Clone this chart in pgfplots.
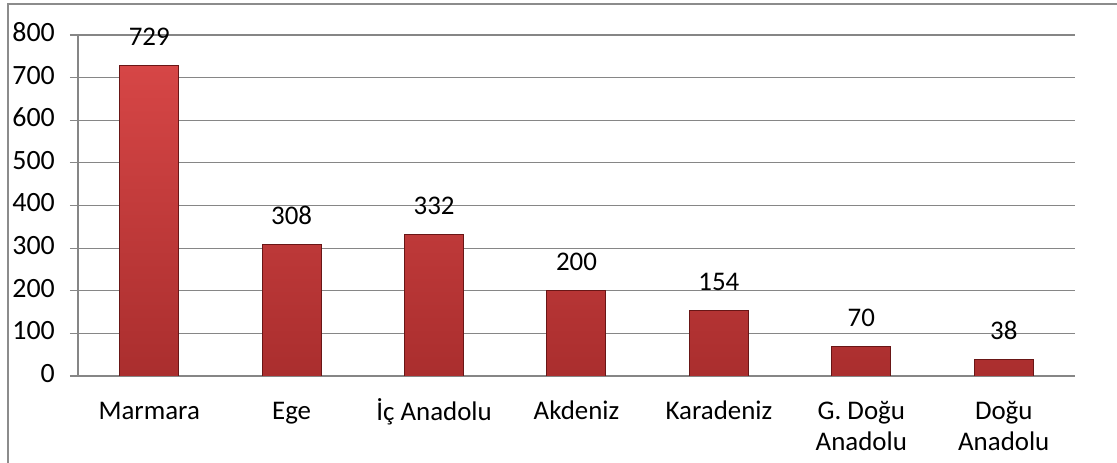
\documentclass[border=0pt]{standalone}
\usepackage{fontspec}
\setmainfont{Carlito}
\usepackage{pgfplots}
\pgfplotsset{compat=1.18}

\definecolor{gridgray}{RGB}{134,134,134}
\definecolor{framegray}{RGB}{140,140,140}
\definecolor{bartop}{RGB}{214,70,70}
\definecolor{barbot}{RGB}{170,46,46}
\definecolor{baredge}{RGB}{105,22,22}

\begin{document}
\fontsize{27}{31}\selectfont
\begin{tikzpicture}
\useasboundingbox (0,0) rectangle (1117bp,463bp);
\draw[framegray, line width=1.5bp] (8bp,0) -- (8bp,459bp) -- (1117bp,459bp);
\begin{axis}[
    at={(78bp,87bp)}, anchor=south west,
    scale only axis,
    width=997bp, height=341bp,
    ymin=0, ymax=800,
    xmin=-0.5, xmax=6.5,
    ytick={0,100,...,800},
    yticklabels={0,100,200,300,400,500,600,700,800},
    xtick={0,...,6},
    xticklabels={Marmara,Ege,İç Anadolu,Akdeniz,Karadeniz,G. Doğu\\Anadolu,Doğu\\Anadolu},
    typeset ticklabels with strut,
    minor xtick={-0.5,0.5,...,6.5},
    axis lines=left,
    axis line style={-, gridgray, line width=1.2bp},
    ymajorgrids,
    grid style={gridgray, line width=1.2bp},
    tick align=outside,
    major tick length=8bp,
    minor tick length=8bp,
    xtick style={draw=none},
    minor tick style={gridgray, line width=1.2bp},
    ytick style={gridgray, line width=1.2bp},
    /pgf/number format/assume math mode=true,
    tick label style={font=\fontsize{27}{31}\selectfont, text=black},
    yticklabel style={font=\fontsize{28}{32}\selectfont, xshift=-6bp},
    xticklabel style={align=center, anchor=north, yshift=-5bp},
    ybar, bar width=59bp,
    nodes near coords,
    every node near coord/.append style={anchor=base, yshift=20bp, font=\fontsize{27}{31}\selectfont, text=black},
]
\addplot[draw=baredge, line width=1bp, top color=bartop, bottom color=barbot]
  coordinates {(0,729) (1,308) (2,332) (3,200) (4,154) (5,70) (6,38)};
\end{axis}
\end{tikzpicture}
\end{document}
